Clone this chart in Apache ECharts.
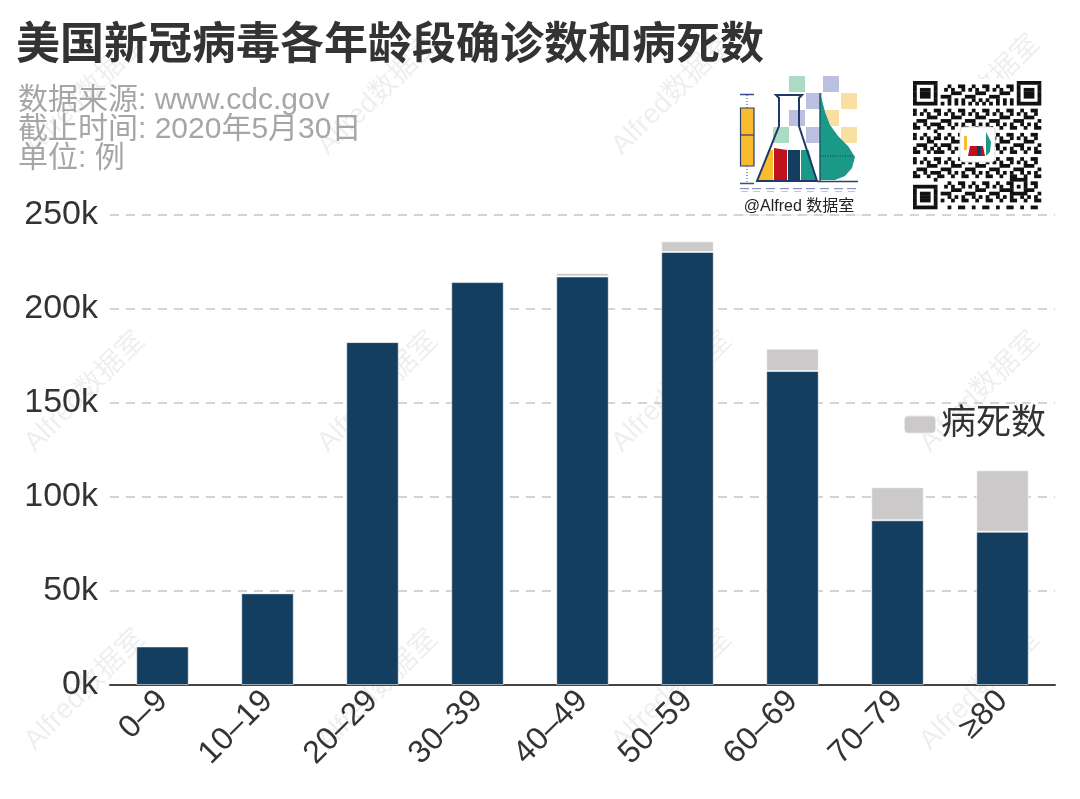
<!DOCTYPE html>
<html><head><meta charset="utf-8">
<script src="https://cdn.jsdelivr.net/npm/echarts@6/dist/echarts.min.js"></script>
<style>html,body{margin:0;padding:0;background:#fff}#c{width:1080px;height:799px}</style>
</head><body><div id="c"></div>
<script>
// ---- data ----
const categories = ['0–9','10–19','20–29','30–39','40–49','50–59','60–69','70–79','≥80'];
const confirmed = [20500, 48800, 182400, 214300, 217300, 230300, 167000, 87600, 81500];
const deaths = [10, 30, 250, 700, 1800, 5700, 11900, 17600, 32700];
const yMin = 0, yMax = 250000, yInterval = 50000;
const titleText = '美国新冠病毒各年龄段确诊数和病死数';
const subtitleLines = ['数据来源: www.cdc.gov', '截止时间: 2020年5月30日', '单位: 例'];
const legendNames = ['病死数'];
const watermarkText = 'Alfred数据室';

const FONT = '"Liberation Sans", "Noto Sans CJK SC", sans-serif';
const chart = echarts.init(document.getElementById('c'), null, {renderer: 'canvas'});

const graphics = [];
// watermarks
const wmX = [85, 378, 672, 980], wmY = [95, 392, 690];
wmY.forEach(y => wmX.forEach(x => {
  graphics.push({type: 'text', x: x, y: y, rotation: Math.PI / 4, z: -10, silent: true,
    style: {text: watermarkText, fill: 'rgba(0,0,0,0.065)', font: '28px ' + FONT, textAlign: 'center', textVerticalAlign: 'middle'}});
}));

// ---- logo (decorative) ----
const logo = [];
logo.push({type: 'rect', shape: {x: 733, y: 70, width: 133, height: 144}, style: {fill: '#fff'}});
logo.push({type: 'line', shape: {x1: 733, y1: 215, x2: 866, y2: 215}, style: {stroke: '#e4e4e4', lineWidth: 1}});
const G = '#a9dcc2', P = '#bcc0e0', Y = '#f9dfa2';
[[789,76,G],[823,76,P],[806,93,P],[841,93,Y],[789,110,P],[823,110,Y],[773,127,G],[806,127,P],[841,127,Y]].forEach(s => {
  logo.push({type: 'rect', shape: {x: s[0], y: s[1], width: 16, height: 16}, style: {fill: s[2]}});
});
// boxplot
logo.push({type: 'line', shape: {x1: 747, y1: 95, x2: 747, y2: 108}, style: {stroke: '#3a4a8a', lineWidth: 1, lineDash: [1, 2]}});
logo.push({type: 'line', shape: {x1: 747, y1: 166, x2: 747, y2: 183}, style: {stroke: '#3a4a8a', lineWidth: 1, lineDash: [1, 2]}});
logo.push({type: 'line', shape: {x1: 740, y1: 94.5, x2: 754, y2: 94.5}, style: {stroke: '#3a4a8a', lineWidth: 1.5}});
logo.push({type: 'line', shape: {x1: 740, y1: 183.5, x2: 754, y2: 183.5}, style: {stroke: '#3a4a8a', lineWidth: 1.5}});
logo.push({type: 'rect', shape: {x: 740.5, y: 108, width: 13.5, height: 58}, style: {fill: '#f8bc2c', stroke: '#2e3d7a', lineWidth: 1.2}});
logo.push({type: 'line', shape: {x1: 740.5, y1: 135, x2: 754, y2: 135}, style: {stroke: '#2e3d7a', lineWidth: 1.2}});
// flask liquid
logo.push({type: 'polygon', shape: {points: [[769.4,150],[773,150],[773,181],[757,181]]}, style: {fill: '#f8bc2c'}});
logo.push({type: 'polygon', shape: {points: [[774,148],[787,150],[787,181],[774,181]]}, style: {fill: '#c0121e'}});
logo.push({type: 'polygon', shape: {points: [[788,150],[800,150],[800,181],[788,181]]}, style: {fill: '#133e5f'}});
logo.push({type: 'polygon', shape: {points: [[801,150],[808.6,150],[817,181],[801,181]]}, style: {fill: '#1a9988'}});
logo.push({type: 'polygon', shape: {points: [[776,95],[802,95],[799,98],[799,126],[817,181],[757,181],[779,126],[779,98]]}, style: {fill: 'none', stroke: '#1f3a66', lineWidth: 2}});
// violin
logo.push({type: 'polygon', shape: {points: [[820,93],[822,100],[825,112],[830,125],[838,136],[848,146],[855,157],[852,168],[845,176],[835,180],[820,180]]}, style: {fill: '#1a9988'}});
logo.push({type: 'line', shape: {x1: 820, y1: 93, x2: 820, y2: 181}, style: {stroke: '#1b5f66', lineWidth: 1.5}});
logo.push({type: 'line', shape: {x1: 820, y1: 156, x2: 853, y2: 156}, style: {stroke: '#123a4a', lineWidth: 1, lineDash: [1, 1.5]}});
logo.push({type: 'line', shape: {x1: 817, y1: 181.5, x2: 858, y2: 181.5}, style: {stroke: '#2d3d7a', lineWidth: 1.5}});
// tiny tick labels row
[740,752,766,780,793,806,820,834,847].forEach(x => {
  logo.push({type: 'rect', shape: {x: x, y: 188, width: 9, height: 1.2}, style: {fill: '#8a94c0'}});
  logo.push({type: 'rect', shape: {x: x + 1, y: 191, width: 7, height: 0.8}, style: {fill: '#b0b6d4'}});
});
logo.push({type: 'text', x: 799, y: 207, style: {text: '@Alfred 数据室', fill: '#222', font: '16px ' + FONT, textAlign: 'center', textVerticalAlign: 'middle'}});
graphics.push({type: 'group', z: 50, children: logo});

// ---- QR-like decoration ----
const qr = [];
const N = 37, qx = 913, qy = 81, ms = 128 / N;
qr.push({type: 'rect', shape: {x: qx - 2, y: qy - 2, width: 132, height: 132}, style: {fill: '#fff'}});
function inFinder(i, j) {
  const f = [[0,0],[0,N-7],[N-7,0]];
  for (const [r,c] of f) {
    if (i >= r - 1 && i <= r + 7 && j >= c - 1 && j <= c + 7) {
      const di = i - r, dj = j - c;
      if (di < 0 || dj < 0 || di > 6 || dj > 6) return 0;
      if (di === 0 || di === 6 || dj === 0 || dj === 6) return 1;
      if (di >= 2 && di <= 4 && dj >= 2 && dj <= 4) return 1;
      return 0;
    }
  }
  return -1;
}
for (let i = 0; i < N; i++) {
  let runStart = -1;
  for (let j = 0; j <= N; j++) {
    let dark = false;
    if (j < N) {
      const f = inFinder(i, j);
      if (f >= 0) dark = f === 1;
      else if (i === 6) dark = j % 2 === 0;
      else if (j === 6) dark = i % 2 === 0;
      else if (i >= 28 && i <= 32 && j >= 28 && j <= 32) {
        const d = Math.max(Math.abs(i - 30), Math.abs(j - 30));
        dark = d !== 1;
      } else dark = ((i * i * 3 + j * 7 + i * j * 5 + 11) % 7) < 3;
    }
    if (dark && runStart < 0) runStart = j;
    if (!dark && runStart >= 0) {
      qr.push({type: 'rect', shape: {x: qx + runStart * ms, y: qy + i * ms, width: (j - runStart) * ms + 0.3, height: ms + 0.3}, style: {fill: '#111'}});
      runStart = -1;
    }
  }
}
qr.push({type: 'rect', shape: {x: 960, y: 127, width: 35, height: 35, r: 4}, style: {fill: '#fff', stroke: '#ddd', lineWidth: 1}});
qr.push({type: 'rect', shape: {x: 964, y: 136, width: 3, height: 14}, style: {fill: '#f8bc2c'}});
qr.push({type: 'polygon', shape: {points: [[970,146],[983,146],[985,156],[968,156]]}, style: {fill: '#c0121e'}});
qr.push({type: 'rect', shape: {x: 977, y: 146, width: 4, height: 10}, style: {fill: '#133e5f'}});
qr.push({type: 'polygon', shape: {points: [[986,132],[991,142],[990,152],[986,156]]}, style: {fill: '#1a9988'}});
graphics.push({type: 'group', z: 50, children: qr});

const option = {
  animation: false,
  backgroundColor: '#fff',
  title: [
    {text: titleText, left: 16, top: 25, padding: 0, textStyle: {fontSize: 44, fontWeight: 'bold', color: '#333', fontFamily: FONT, lineHeight: 44}},
    {text: subtitleLines.join('\n'), left: 18, top: 86, padding: 0, textStyle: {fontSize: 30, fontWeight: 'normal', color: '#a6a6a6', fontFamily: FONT, lineHeight: 29}}
  ],
  legend: {
    data: legendNames, left: 898, top: 402, icon: 'roundRect', itemWidth: 32, itemHeight: 18, itemGap: 10,
    textStyle: {fontSize: 35, color: '#333', fontFamily: FONT}
  },
  grid: {left: 110, right: 25, top: 215, bottom: 114},
  xAxis: {
    type: 'category', data: categories,
    axisTick: {show: false},
    axisLine: {lineStyle: {color: '#444', width: 2}},
    axisLabel: {rotate: 45, interval: 0, fontSize: 32, color: '#333', margin: 11, fontFamily: FONT}
  },
  yAxis: {
    type: 'value', min: yMin, max: yMax, interval: yInterval,
    axisLine: {show: false}, axisTick: {show: false},
    axisLabel: {fontSize: 34, color: '#333', margin: 12, fontFamily: FONT, formatter: v => (v / 1000) + 'k'},
    splitLine: {lineStyle: {color: '#d4d4d4', width: 2, type: [9, 7]}}
  },
  series: [
    {name: '确诊数', type: 'bar', stack: 'total', data: confirmed, barWidth: '50%',
     itemStyle: {color: '#133e5f', borderColor: 'rgba(255,255,255,0.55)', borderWidth: 1}},
    {name: '病死数', type: 'bar', stack: 'total', data: deaths, barWidth: '50%',
     itemStyle: {color: '#cbc9ca', borderColor: 'rgba(255,255,255,0.55)', borderWidth: 1}}
  ],
  graphic: graphics
};
chart.setOption(option);
</script>
</body></html>
